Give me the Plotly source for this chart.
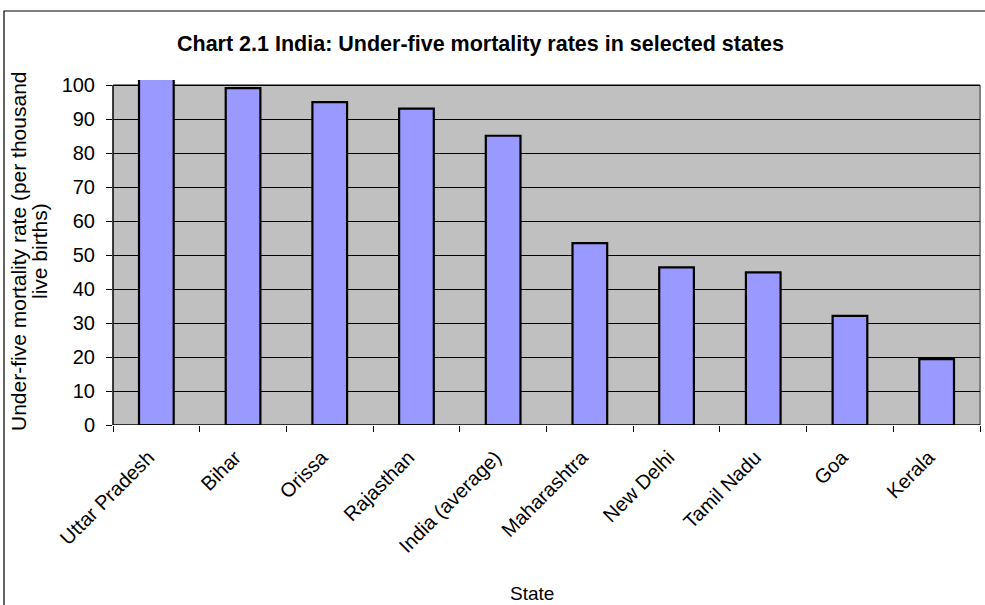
import plotly.graph_objects as go

# Under-five mortality rates (per thousand live births) by state
states = ["Uttar Pradesh", "Bihar", "Orissa", "Rajasthan", "India (average)",
          "Maharashtra", "New Delhi", "Tamil Nadu", "Goa", "Kerala"]
u5mr = [122.5, 99.1, 95.0, 93.1, 85.1, 53.5, 46.4, 44.9, 32.1, 19.4]
y_ticks = [0, 10, 20, 30, 40, 50, 60, 70, 80, 90, 100]

W, H = 985, 605
L, R, T, B = 113, 5, 80, 180
FONT = "Liberation Sans, Arial, sans-serif"
PW, PH = W - L - R, H - T - B

fig = go.Figure()
fig.add_trace(go.Bar(
    x=states, y=u5mr,
    marker=dict(color="#9999FF", line=dict(color="black", width=2.2)),
    width=0.4,
    hoverinfo="x+y",
))

# grey plot area up to 100, drawn under the gridlines
fig.add_shape(type="rect", xref="x domain", yref="y", x0=0, x1=1, y0=0, y1=100,
              fillcolor="#C0C0C0", line=dict(width=0), layer="below")
# frame: grey top/right, black left/bottom axis lines
fig.add_shape(type="line", xref="x domain", yref="y", x0=0, x1=1, y0=100, y1=100,
              line=dict(color="#808080", width=2), layer="below")
fig.add_shape(type="line", xref="x domain", yref="y", x0=1, x1=1, y0=0, y1=100,
              line=dict(color="#808080", width=2), layer="below")
fig.add_shape(type="line", xref="x domain", yref="y", x0=0, x1=0, y0=0, y1=100,
              line=dict(color="black", width=1.5), layer="above")
fig.add_shape(type="line", xref="x domain", yref="y", x0=0, x1=1, y0=0, y1=0,
              line=dict(color="black", width=1.5), layer="above")
# outer chart border
fig.add_shape(type="rect", xref="paper", yref="paper",
              x0=-(L - 4) / PW, x1=1 + 20 / PW,
              y0=-(B + 20) / PH, y1=1 + (T - 11) / PH,
              line=dict(color="black", width=1.2), fillcolor="rgba(0,0,0,0)")

# category labels, padded so the rotated text sits a little lower-left
tick_text = [s + "\u00a0\u00a0" for s in states]

fig.update_layout(
    width=W, height=H,
    margin=dict(l=L, r=R, t=T, b=B),
    paper_bgcolor="white", plot_bgcolor="white",
    showlegend=False,
    bargap=0.6,
    font=dict(family=FONT, color="black", size=20),
    xaxis=dict(
        type="category", tickson="boundaries",
        tickvals=states, ticktext=tick_text,
        ticks="outside", ticklen=6, tickcolor="black", tickwidth=1,
        tickangle=-45, tickfont=dict(size=20), ticklabelstandoff=8,
        showgrid=False, showline=False, zeroline=False,
    ),
    yaxis=dict(
        range=[0, 101.5], tickvals=y_ticks,
        ticks="outside", ticklen=6, tickcolor="black", tickwidth=1,
        tickfont=dict(size=20), ticklabelstandoff=7,
        showgrid=True, gridcolor="black", gridwidth=1,
        showline=False, zeroline=False,
    ),
    annotations=[
        dict(text="<b>Chart 2.1 India: Under-five mortality rates in selected states</b>",
             xref="paper", yref="paper", x=(480 - L) / PW, y=1,
             xanchor="center", yanchor="middle", yshift=(T - 44),
             showarrow=False, font=dict(size=21.5)),
        dict(text="Under-five mortality rate (per thousand",
             xref="paper", yref="paper", x=0, y=(H - B - 251) / PH, xshift=-(L - 18),
             xanchor="center", yanchor="middle", textangle=-90,
             showarrow=False, font=dict(size=21)),
        dict(text="live births)",
             xref="paper", yref="paper", x=0, y=(H - B - 251) / PH, xshift=-(L - 39),
             xanchor="center", yanchor="middle", textangle=-90,
             showarrow=False, font=dict(size=21)),
        dict(text="State", xref="paper", yref="paper",
             x=(532 - L) / PW, y=0, yshift=-(593 - (H - B)),
             xanchor="center", yanchor="middle",
             showarrow=False, font=dict(size=19)),
    ],
)

fig.write_html("out.html")
